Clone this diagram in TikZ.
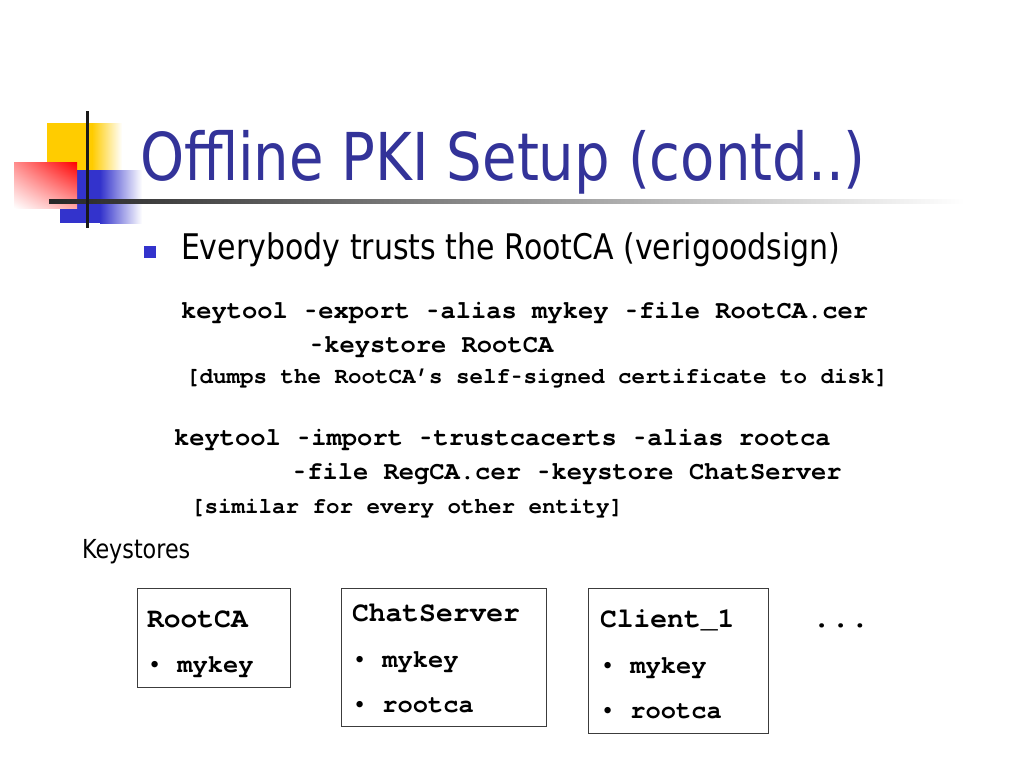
\documentclass[tikz,border=0pt]{standalone}
\usepackage{fontspec}
\usetikzlibrary{shadings}
\newfontfamily\tah{DejaVu Sans}[FakeStretch=0.85]
\newfontfamily\cour{texgyrecursor}[Extension=.otf, UprightFont=*-regular, BoldFont=*-bold, Ligatures={NoCommon}]
\newcommand{\hy}{\makebox[0.6em]{\scalebox{0.65}[1]{-}}}
\newcommand{\smbul}{\makebox[0.6em]{\raisebox{0.12em}{\scalebox{0.7}{•}}}}
\definecolor{titleblue}{RGB}{51,51,153}
\definecolor{bulblue}{RGB}{51,51,204}
\definecolor{decyellow}{RGB}{255,204,0}
\definecolor{decblue}{RGB}{51,51,204}
\definecolor{boxline}{RGB}{60,60,60}
\tikzset{
  txt/.style={anchor=base west, inner sep=0pt, outer sep=0pt},
  codeline/.style={txt, font=\cour\bfseries\fontsize{25.45}{30}\selectfont},
  noteline/.style={txt, font=\cour\bfseries\fontsize{22.5}{27}\selectfont},
  boxhead/.style={txt, font=\cour\bfseries\fontsize{28}{33}\selectfont},
  boxitem/.style={txt, font=\cour\bfseries\fontsize{25.4}{30}\selectfont},
  keybox/.style={draw=boxline, line width=1pt, anchor=north west, inner sep=0pt, rectangle},
}
\begin{document}
\begin{tikzpicture}[x=1pt,y=-1pt]
\useasboundingbox[fill=white] (0,0) rectangle (1024,768);
% decoration
\fill[decyellow] (47,123) rectangle (92,170);
\shade[left color=decyellow, right color=white] (92,123) rectangle (122,170);
\fill[decblue] (60,170) rectangle (100,223);
\shade[left color=decblue, right color=white] (100,170) rectangle (142,223);
\shade[upper right=red, upper left=red!45!white, lower right=red!35!white, lower left=white] (14,162) rectangle (77,208);
\shade[left color=black!85, right color=white] (49,199) rectangle (965,203);
\fill[black!90] (85.5,111) rectangle (88.5,228);
% title
\node[txt, font=\tah\fontsize{66}{70}\selectfont, text=titleblue] (title) at (140,180) {Offline PKI Setup (contd..)};
% bullet
\node[fill=bulblue, minimum size=12pt, inner sep=0pt, anchor=north west] (bul) at (144,246) {};
\node[txt, font=\tah\fontsize{35.3}{40}\selectfont] (trust) at (181,259) {Everybody trusts the RootCA (verigoodsign)};
% code
\node[codeline] (c1) at (181,318) {keytool \hy export \hy alias mykey \hy file RootCA.cer};
\node[codeline] (c2) at (309,352) {\hy keystore RootCA};
\node[noteline] (n1) at (186,383) {[dumps the RootCA’s self\hy signed certificate to disk]};
\node[codeline] (c3) at (174,445) {keytool \hy import \hy trustcacerts \hy alias rootca};
\node[codeline] (c4) at (292,479) {\hy file RegCA.cer \hy keystore ChatServer};
\node[noteline] (n2) at (191,513) {[similar for every other entity]};
% keystores
\node[txt, font=\tah\fontsize{26.2}{30}\selectfont] (ks) at (82,558) {Keystores};
% boxes
\node[keybox, minimum width=153pt, minimum height=99pt] (b1) at (137,588) {};
\node[boxhead] (b1h) at (147,627) {RootCA};
\node[boxitem] (b1a) at (147,672) {\smbul{} mykey};
\node[keybox, minimum width=205pt, minimum height=138pt] (b2) at (341,588) {};
\node[boxhead] (b2h) at (352,621) {ChatServer};
\node[boxitem] (b2a) at (352,667) {\smbul{} mykey};
\node[boxitem] (b2b) at (352,712) {\smbul{} rootca};
\node[keybox, minimum width=180pt, minimum height=145pt] (b3) at (588,588) {};
\node[boxhead] (b3h) at (600,627) {Client\_1};
\node[boxitem] (b3a) at (600,673) {\smbul{} mykey};
\node[boxitem] (b3b) at (600,718) {\smbul{} rootca};
\node[txt, font=\cour\bfseries\fontsize{32}{36}\selectfont] (dots) at (812,627) {...};
\end{tikzpicture}
\end{document}
